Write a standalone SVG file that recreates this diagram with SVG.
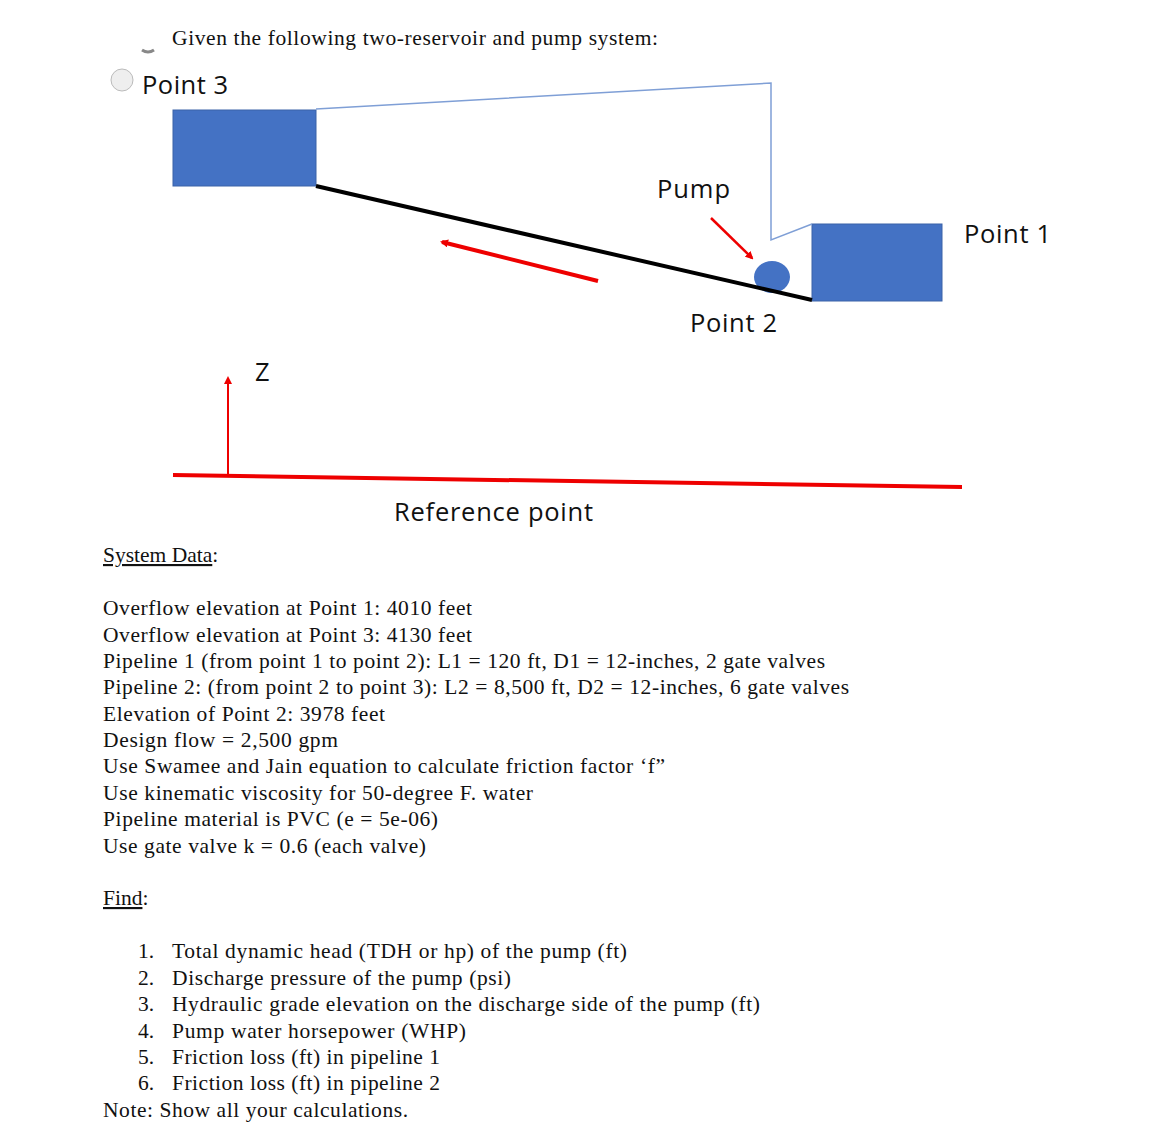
<svg xmlns="http://www.w3.org/2000/svg" width="1170" height="1144" viewBox="0 0 1170 1144">
<style>
.t{font-family:"Liberation Serif",serif;font-size:21.5px;fill:#111}
.s{font-family:"Open Sans","Noto Sans",sans-serif;font-size:25.5px;fill:#111}
.box{fill:#4472c4;stroke:#3a62a8;stroke-width:1}
</style>
<defs>
<marker id="ar" markerWidth="8" markerHeight="8" refX="6" refY="4" orient="auto" markerUnits="userSpaceOnUse"><path d="M0,0L8,4L0,8z" fill="#e00"/></marker>
</defs>
<rect width="1170" height="1144" fill="#fff"/>
<path d="M142,50 q6,4 12,0" stroke="#888" stroke-width="3" fill="none"/>
<text class="t" x="172" y="45" textLength="486">Given the following two-reservoir and pump system:</text>
<circle cx="122" cy="80" r="11" fill="#eee" stroke="#bbb"/>
<text class="s" x="142" y="94" textLength="86">Point 3</text>
<g id="reservoir3"><rect class="box" x="173" y="110" width="143" height="76"/></g>
<g id="reservoir1"><rect class="box" x="812" y="224" width="130" height="77"/></g>
<g id="pump"><ellipse cx="772" cy="277" rx="18" ry="16" fill="#4472c4"/></g>
<g id="connectors">
<polyline points="316,109 771,83 771,240 812,224" fill="none" stroke="#7f9fd6" stroke-width="1.5"/>
<line x1="316" y1="186" x2="812" y2="300" stroke="#000" stroke-width="4"/>
<line x1="598" y1="281" x2="442" y2="242" stroke="#e00" stroke-width="4" marker-end="url(#ar)"/>
<line x1="711" y1="218" x2="752" y2="258" stroke="#e00" stroke-width="2.5" marker-end="url(#ar)"/>
<line x1="228" y1="474" x2="228" y2="378" stroke="#e00" stroke-width="2" marker-end="url(#ar)"/>
<line x1="173" y1="475" x2="962" y2="487" stroke="#e00" stroke-width="4"/>
</g>
<text class="s" x="657" y="198" textLength="73">Pump</text>
<text class="s" x="964" y="243" textLength="87">Point 1</text>
<text class="s" x="690" y="332" textLength="87">Point 2</text>
<text class="s" x="255" y="381">Z</text>
<text class="s" x="394" y="521" textLength="199">Reference point</text>
<text class="t" x="103" y="562"><tspan text-decoration="underline">System Data</tspan>:</text>
<text class="t" x="103" y="615" textLength="369">Overflow elevation at Point 1: 4010 feet</text>
<text class="t" x="103" y="642" textLength="369">Overflow elevation at Point 3: 4130 feet</text>
<text class="t" x="103" y="668" textLength="722">Pipeline 1 (from point 1 to point 2): L1 = 120 ft, D1 = 12-inches, 2 gate valves</text>
<text class="t" x="103" y="694" textLength="746">Pipeline 2: (from point 2 to point 3): L2 = 8,500 ft, D2 = 12-inches, 6 gate valves</text>
<text class="t" x="103" y="721" textLength="282">Elevation of Point 2: 3978 feet</text>
<text class="t" x="103" y="747" textLength="235">Design flow = 2,500 gpm</text>
<text class="t" x="103" y="773" textLength="562">Use Swamee and Jain equation to calculate friction factor ‘f”</text>
<text class="t" x="103" y="800" textLength="430">Use kinematic viscosity for 50-degree F. water</text>
<text class="t" x="103" y="826" textLength="335">Pipeline material is PVC (e = 5e-06)</text>
<text class="t" x="103" y="853" textLength="323">Use gate valve k = 0.6 (each valve)</text>
<text class="t" x="103" y="905"><tspan text-decoration="underline">Find</tspan>:</text>
<g class="t">
<text class="t" x="138" y="958">1.</text><text class="t" x="172" y="958" textLength="455">Total dynamic head (TDH or hp) of the pump (ft)</text>
<text class="t" x="138" y="985">2.</text><text class="t" x="172" y="985" textLength="339">Discharge pressure of the pump (psi)</text>
<text class="t" x="138" y="1011">3.</text><text class="t" x="172" y="1011" textLength="588">Hydraulic grade elevation on the discharge side of the pump (ft)</text>
<text class="t" x="138" y="1038">4.</text><text class="t" x="172" y="1038" textLength="294">Pump water horsepower (WHP)</text>
<text class="t" x="138" y="1064">5.</text><text class="t" x="172" y="1064" textLength="268">Friction loss (ft) in pipeline 1</text>
<text class="t" x="138" y="1090">6.</text><text class="t" x="172" y="1090" textLength="268">Friction loss (ft) in pipeline 2</text>
</g>
<text class="t" x="103" y="1117" textLength="305">Note: Show all your calculations.</text>
</svg>
